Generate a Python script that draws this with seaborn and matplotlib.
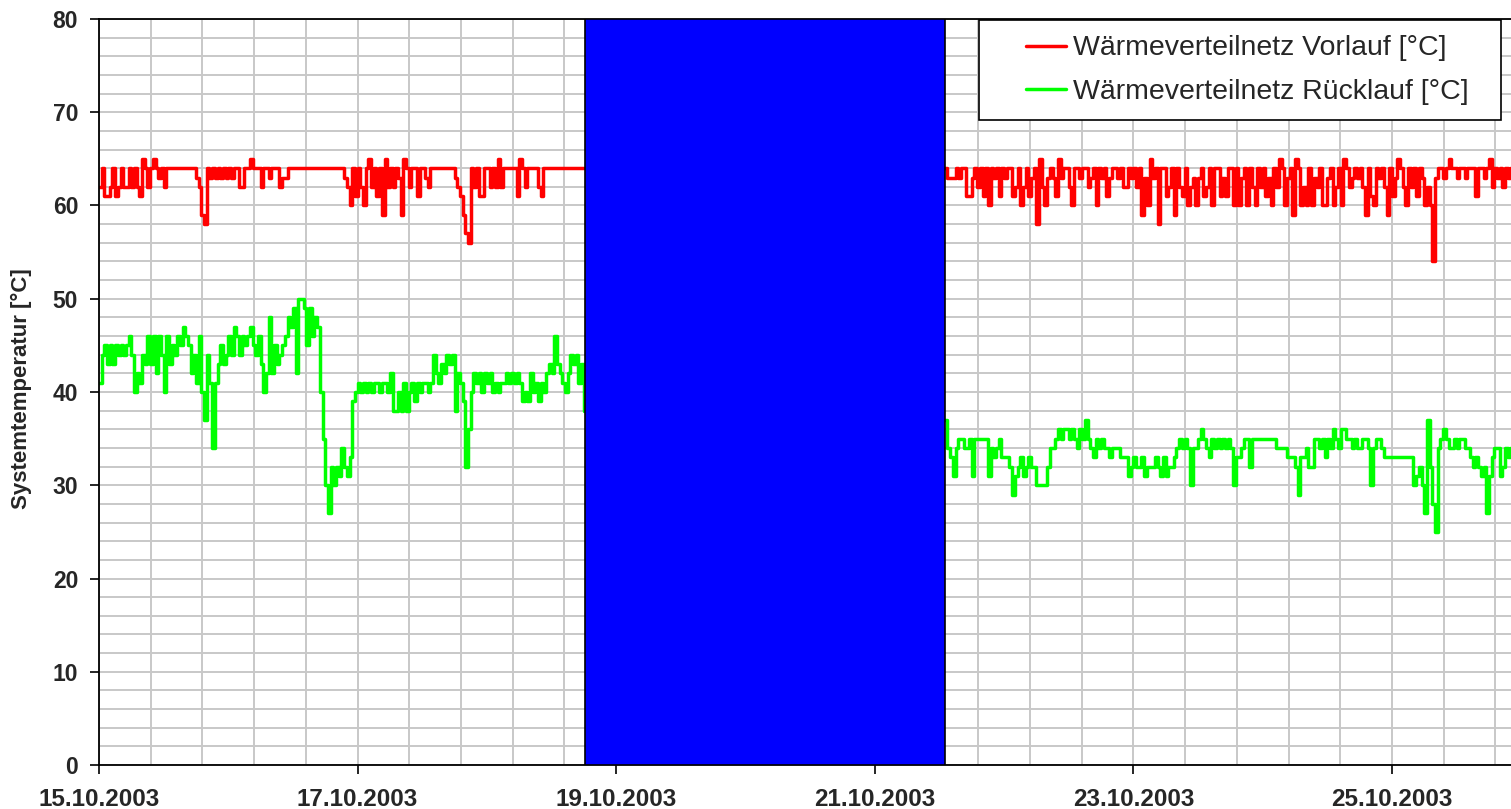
import pandas as pd
import matplotlib
matplotlib.use("Agg")
import matplotlib.pyplot as plt
import matplotlib.dates as mdates
from matplotlib.ticker import MultipleLocator
from matplotlib.patches import Rectangle
from matplotlib.lines import Line2D
import seaborn as sns


# measured values, one value every 30 minutes
pre_start = "2003-10-15 00:00"
post_start = "2003-10-21 13:00"
gap_start = "2003-10-18 18:15"
gap_end = "2003-10-21 13:00"
x_start = "2003-10-15 00:00"
x_end = "2003-10-25 22:06"

vorlauf_pre = [
    62, 64, 61, 61, 62, 64, 61, 62, 64, 62, 62, 64, 62, 64, 62, 61, 65, 64, 62, 64,
    65, 64, 63, 64, 62, 64,
    64, 64, 64, 64, 64, 64, 64, 64, 64, 64,
    63, 62, 59, 58, 64,
    63, 64, 63, 64, 63, 64, 63, 64, 63, 64, 64, 62, 62, 64, 64, 65, 64, 64, 64, 62,
    64, 64, 63, 64, 64, 64, 62, 63, 63, 64,
    64, 64, 64, 64, 64, 64, 64, 64, 64, 64, 64, 64, 64, 64, 64, 64, 64, 64, 64, 64,
    63, 62, 60, 64, 61, 64, 62, 60, 64, 65, 62, 64, 61, 64, 59, 65, 62, 64, 62, 64,
    63, 59, 65, 64, 62, 64, 64, 61, 64, 64, 63, 62, 64,
    64, 64, 64, 64, 64, 64, 64, 64,
    63, 62, 61, 59, 57, 56, 64, 62, 64, 61, 61, 64, 64, 62, 64, 62, 65, 62, 64, 64,
    64, 64, 64, 61, 65, 64, 62, 64, 64, 64, 64, 62, 61, 64,
    64, 64, 64, 64, 64, 64, 64, 64, 64, 64, 64, 64, 64, 64, 64,
]

ruecklauf_pre = [
    41, 44, 45, 43, 45, 43, 45, 44, 45, 44,
    45, 46, 44, 40, 42, 41, 44, 43, 46, 43,
    46, 42, 46, 44, 40, 46, 43, 45, 44, 46,
    45, 47, 46, 45, 42, 44, 41, 46, 40, 37,
    44, 41, 34, 41, 43, 45, 43, 44, 46, 44,
    47, 46, 44, 46, 45, 46, 47, 45, 44, 46,
    43, 40, 42, 48, 42, 45, 43, 44, 45, 46,
    48, 47, 49, 42, 50, 50, 49, 45, 49, 46,
    48, 47, 40, 35, 30, 27, 32, 30, 32, 31,
    34, 32, 31, 33, 39, 40, 41, 40, 41, 40,
    41, 40, 41, 41, 40, 41, 41, 40, 42, 38,
    38, 40, 38, 41, 38, 40, 41, 39, 41, 40,
    41, 41, 40, 41, 44, 42, 41, 43, 42, 44,
    43, 44, 38, 42, 41, 39, 32, 36, 40, 42,
    41, 42, 40, 42, 41, 42, 40, 41, 40, 41,
    41, 42, 41, 42, 41, 42, 41, 39, 40, 39,
    42, 40, 41, 39, 41, 40, 42, 43, 42, 46,
    43, 42, 41, 40, 42, 44, 43, 44, 41, 43,
    38,
]

vorlauf_post = [
    64, 63, 63, 63, 64, 63, 64, 64, 61, 61,
    63, 64, 62, 64, 61, 64, 60, 64, 63, 64,
    61, 64, 63, 64, 64, 61, 62, 64, 60, 62,
    64, 61, 63, 64, 58, 65, 62, 60, 63, 64,
    63, 61, 65, 63, 64, 64, 62, 60, 64, 64,
    63, 64, 64, 62, 63, 64, 60, 64, 63, 64,
    61, 63, 64, 64, 63, 64, 62, 62, 64, 63,
    64, 62, 64, 59, 63, 60, 65, 63, 64, 58,
    64, 64, 61, 62, 64, 59, 64, 62, 61, 64,
    60, 62, 63, 60, 63, 64, 61, 62, 64, 60,
    64, 64, 61, 63, 61, 64, 64, 60, 64, 60,
    63, 64, 60, 64, 62, 60, 64, 62, 64, 61,
    63, 60, 64, 62, 65, 64, 60, 63, 64, 59,
    65, 64, 60, 62, 60, 64, 60, 63, 62, 64,
    60, 60, 63, 64, 60, 62, 64, 60, 65, 64,
    62, 63, 64, 63, 64, 62, 59, 64, 61, 60,
    64, 63, 64, 62, 59, 64, 61, 63, 65, 64,
    62, 60, 64, 62, 64, 61, 64, 63, 60, 62,
    60, 54, 63, 64, 64, 63, 64, 65, 64, 64,
    63, 64, 64, 63, 64, 64, 64, 61, 64, 64,
    63, 64, 65, 62, 64, 63, 64, 62, 64, 63,
    64,
]

ruecklauf_post = [
    37, 34, 33, 31, 34, 35, 35, 34, 34, 35,
    31, 35, 35, 35, 35, 35, 31, 34, 33, 34,
    35, 33, 33, 33, 32, 29, 31, 32, 33, 31,
    32, 33, 32, 32, 30, 30, 30, 30, 32, 34,
    34, 35, 36, 35, 36, 36, 35, 36, 35, 34,
    36, 35, 37, 35, 34, 33, 35, 34, 35, 34,
    34, 33, 34, 34, 34, 33, 33, 33, 31, 32,
    33, 32, 32, 33, 31, 32, 32, 32, 33, 32,
    31, 33, 31, 32, 32, 33, 34, 35, 34, 35,
    34, 30, 34, 34, 35, 36, 35, 34, 33, 35,
    34, 35, 34, 35, 34, 35, 34, 30, 33, 33,
    34, 35, 35, 32, 35, 35, 35, 35, 35, 35,
    35, 35, 35, 34, 34, 34, 34, 33, 33, 33,
    32, 29, 33, 33, 34, 32, 32, 35, 35, 34,
    35, 33, 35, 34, 36, 35, 34, 36, 36, 35,
    35, 34, 35, 34, 34, 35, 35, 34, 30, 34,
    35, 35, 34, 33, 33, 33, 33, 33, 33, 33,
    33, 33, 33, 33, 30, 31, 32, 30, 27, 37,
    32, 28, 25, 34, 35, 36, 35, 34, 34, 35,
    34, 35, 35, 34, 34, 33, 32, 33, 32, 31,
    32, 27, 31, 33, 34, 34, 31, 32, 34, 33,
    34,
]

label_vl = "Wärmeverteilnetz Vorlauf [°C]"
label_rl = "Wärmeverteilnetz Rücklauf [°C]"
y_label = "Systemtemperatur [°C]"

col_vl = "#FF0000"
col_rl = "#00FF00"
col_gap = "#0000FF"


def segment(start, values):
    t = pd.date_range(start, periods=len(values), freq="30min")
    return pd.DataFrame({"zeit": t, "temp": values})


sns.set_style("white")
plt.rcParams["font.family"] = ["Liberation Sans", "DejaVu Sans"]
plt.rcParams["font.weight"] = "bold"

fig = plt.figure(figsize=(15.11, 8.09), dpi=100)
ax = fig.add_axes([99 / 1511, 44 / 809, 1412 / 1511, 746 / 809])

for start, vals, col in [(pre_start, vorlauf_pre, col_vl), (post_start, vorlauf_post, col_vl),
                         (pre_start, ruecklauf_pre, col_rl), (post_start, ruecklauf_post, col_rl)]:
    sns.lineplot(data=segment(start, vals), x="zeit", y="temp", color=col, lw=2.5,
                 drawstyle="steps-post", estimator=None, sort=False, legend=False,
                 ax=ax, zorder=2.5)

# no data in this period
ax.axvspan(pd.Timestamp(gap_start), pd.Timestamp(gap_end), facecolor=col_gap,
           edgecolor="black", lw=1.2, zorder=3)

ax.set_xlim(pd.Timestamp(x_start), pd.Timestamp(x_end))
ax.set_ylim(0, 80)
ax.xaxis.set_major_locator(MultipleLocator(2))
ax.xaxis.set_minor_locator(MultipleLocator(0.4))
ax.xaxis.set_major_formatter(mdates.DateFormatter("%d.%m.%Y"))
ax.yaxis.set_major_locator(MultipleLocator(10))
ax.yaxis.set_minor_locator(MultipleLocator(2))

ax.set_axisbelow(True)
ax.grid(True, which="both", color="#c8c8c8", lw=1.4)
ax.tick_params(which="major", direction="out", length=6.5, width=1.2, color="black",
               bottom=True, left=True)
ax.tick_params(axis="x", which="major", pad=10, labelsize=17.5)
ax.tick_params(axis="y", which="major", pad=8.5, labelsize=16.5)
ax.tick_params(which="minor", length=0)

for side in ["left", "bottom", "top"]:
    ax.spines[side].set_color("black")
    ax.spines[side].set_linewidth(1.3)
ax.spines["right"].set_visible(False)

ax.set_xlabel("")
ax.set_ylabel(y_label, fontsize=16, fontweight="bold")
ax.yaxis.set_label_coords(-0.0474, 0.505)

# legend box
ax.add_patch(Rectangle((0.6232, 0.8646), 0.3697, 0.1341, transform=ax.transAxes,
                       facecolor="white", edgecolor="black", lw=1.2, zorder=5))
handles = [Line2D([], [], color=col_vl, lw=2.5), Line2D([], [], color=col_rl, lw=2.5)]
leg = ax.legend(handles, [label_vl, label_rl], loc="center", bbox_to_anchor=(0.8135, 0.9316),
                frameon=False, prop={"size": 20.5, "weight": "normal"},
                handlelength=1.4, handletextpad=0.25, labelspacing=0.6)
leg.set_zorder(10)

plt.savefig("out.png", dpi=100)
